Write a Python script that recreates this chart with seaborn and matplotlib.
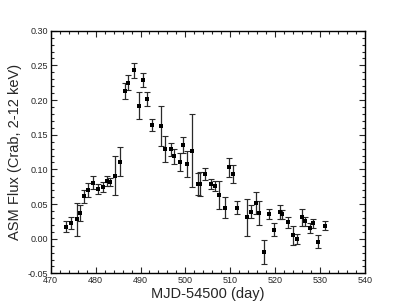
import numpy as np
import pandas as pd
import matplotlib
matplotlib.use("Agg")
import matplotlib.pyplot as plt
import seaborn as sns
from matplotlib.ticker import MultipleLocator

dias = [473.4, 474.6, 475.9, 476.6, 477.5, 478.2, 479.4, 480.6, 481.6, 482.6,
        483.3, 484.4, 485.5, 486.6, 487.3, 488.6, 489.6, 490.6, 491.5, 492.6,
        494.6, 495.5, 496.8, 497.5, 498.9, 499.5, 500.4, 501.5, 502.7, 503.2,
        504.3, 505.7, 506.5, 507.5, 508.8, 509.8, 510.6, 511.6, 513.8, 514.7,
        515.7, 516.4, 517.5, 518.6, 519.8, 521.0, 521.5, 522.8, 523.9, 524.9,
        526.0, 526.7, 527.7, 528.5, 529.6, 531.1]
flujo = [0.017, 0.023, 0.028, 0.037, 0.061, 0.070, 0.081, 0.072, 0.075, 0.083,
         0.082, 0.091, 0.111, 0.213, 0.225, 0.243, 0.192, 0.229, 0.201, 0.164,
         0.163, 0.129, 0.129, 0.119, 0.111, 0.135, 0.108, 0.127, 0.079, 0.079,
         0.093, 0.079, 0.076, 0.063, 0.045, 0.103, 0.093, 0.045, 0.031, 0.039,
         0.051, 0.037, -0.019, 0.036, 0.013, 0.038, 0.035, 0.024, 0.005, 0.000,
         0.031, 0.025, 0.015, 0.022, -0.004, 0.019]
error = [0.008, 0.009, 0.024, 0.011, 0.009, 0.010, 0.009, 0.007, 0.007, 0.007,
         0.006, 0.028, 0.021, 0.011, 0.011, 0.011, 0.020, 0.010, 0.010, 0.008,
         0.029, 0.019, 0.009, 0.011, 0.013, 0.011, 0.019, 0.053, 0.016, 0.017,
         0.009, 0.007, 0.007, 0.020, 0.015, 0.014, 0.013, 0.009, 0.027, 0.009,
         0.016, 0.017, 0.017, 0.007, 0.009, 0.010, 0.007, 0.008, 0.014, 0.007,
         0.012, 0.007, 0.007, 0.007, 0.010, 0.006]

df = pd.DataFrame({'dia': dias, 'flujo': flujo, 'error': error})

sns.set_theme(style="ticks")
plt.rcParams['font.family'] = ['Liberation Sans', 'DejaVu Sans']

fig = plt.figure(figsize=(4.07, 3.05), dpi=100)
ax = fig.add_axes([0.1246, 0.1036, 0.7722, 0.7957])

# Barras de error y puntos
ax.errorbar(df['dia'], df['flujo'], yerr=df['error'], fmt='none',
            ecolor='#2a2a2a', elinewidth=0.9, capsize=2.5, capthick=0.8)
sns.scatterplot(data=df, x='dia', y='flujo', marker='s', color='black',
                s=5, linewidth=0, ax=ax, zorder=3)

ax.set_xlim(470, 540)
ax.set_ylim(-0.05, 0.30)
ax.xaxis.set_major_locator(MultipleLocator(10))
ax.xaxis.set_minor_locator(MultipleLocator(2))
ax.yaxis.set_major_locator(MultipleLocator(0.05))
ax.yaxis.set_minor_locator(MultipleLocator(0.01))
ax.yaxis.set_major_formatter(matplotlib.ticker.FormatStrFormatter('%.2f'))

ax.tick_params(which='both', direction='in', top=True, right=True,
               labelsize=6.5, width=0.8, pad=2)
ax.tick_params(which='major', length=4)
ax.tick_params(which='minor', length=2)
for s in ax.spines.values():
    s.set_linewidth(1.0)
    s.set_color('black')

ax.set_xlabel('MJD-54500 (day)', fontsize=10.5, labelpad=1)
ax.set_ylabel('ASM Flux (Crab, 2-12 keV)', fontsize=10.5, labelpad=4)

plt.savefig('out.png', dpi=100)
